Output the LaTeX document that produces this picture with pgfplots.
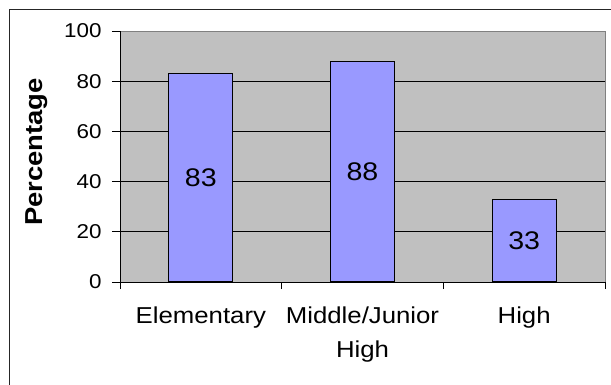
\documentclass[border=0pt]{standalone}
\usepackage{pgfplots}
\usepackage{pgfplotstable}
\pgfplotsset{compat=1.18}
\usepackage{fontspec}
\setmainfont{Liberation Sans}[FakeStretch=1.12]
\definecolor{barblue}{HTML}{9999FF}
\definecolor{plotgray}{HTML}{C0C0C0}
\definecolor{bordergray}{HTML}{808080}

% share of schools, by level
\pgfplotstableread{
x   pct
0.5 83
1.5 88
2.5 33
}\schooldata

\begin{document}
\begin{tikzpicture}
\useasboundingbox (0,0) rectangle (611pt,384pt);
\draw[line width=0.9pt, black!85] (9pt,-10pt) -- (9pt,375pt) -- (620pt,375pt);
\begin{axis}[
  at={(120pt,102pt)}, anchor=south west,
  width=485pt, height=251pt, scale only axis,
  xmin=0, xmax=3, ymin=0, ymax=100,
  axis x line*=bottom, axis y line*=left,
  axis line style={-, black, line width=0.9pt},
  axis background/.style={fill=plotgray, draw=bordergray, line width=0.9pt},
  /pgf/number format/assume math mode=true,
  ytick={0,20,...,100},
  tick align=outside,
  major tick length=8pt,
  y tick style={black, line width=0.9pt},
  yticklabel style={font=\fontsize{20}{22}\selectfont, xshift=-7pt},
  xtick={0.5,1.5,2.5},
  xticklabels={Elementary,{Middle/Junior\\High},High},
  x tick style={draw=none},
  xticklabel style={font=\fontsize{23}{34}\selectfont, align=center, anchor=north, yshift=-13pt},
  extra x ticks={0,1,2,3},
  extra x tick labels={},
  extra x tick style={major tick length=7pt, x tick style={draw=black, line width=0.9pt}},
  extra y ticks={20,40,60,80},
  extra y tick labels={},
  extra y tick style={ymajorgrids=true, major tick length=0pt, major grid style={black, line width=0.8pt}},
  ylabel={Percentage},
  ylabel style={font=\bfseries\fontsize{24.5}{26}\selectfont, at={(axis description cs:-0.171,0.518)}, anchor=center},
]
\addplot[ybar, bar width=0.396, bar shift=0pt, fill=barblue, draw=black, line width=1.2pt,
  nodes near coords,
  visualization depends on={y \as \rawy},
  every node near coord/.append style={font=\fontsize{25.5}{27}\selectfont, anchor=center,
    shift={(axis direction cs:0,-\rawy/2)}}]
  table[x=x, y=pct] {\schooldata};
\end{axis}
\end{tikzpicture}
\end{document}
